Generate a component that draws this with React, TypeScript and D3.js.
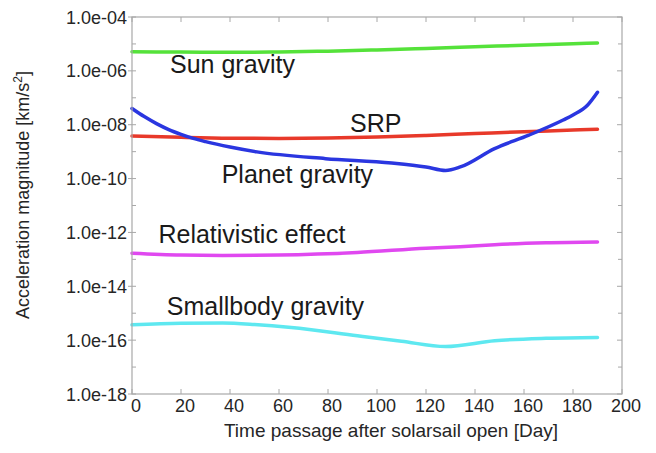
import React from "react";
import * as d3 from "d3";

const W = 656;
const H = 453;

const sunDays = [0, 20, 40, 60, 80, 100, 120, 140, 160, 180, 190];
const sunVals = [5.1e-6, 5.0e-6, 4.9e-6, 5.0e-6, 5.4e-6, 6.0e-6, 6.8e-6, 7.8e-6, 9.0e-6, 1.02e-5, 1.08e-5];

const srpDays = [0, 20, 40, 60, 80, 100, 120, 140, 160, 180, 190];
const srpVals = [3.8e-9, 3.4e-9, 3.15e-9, 3.1e-9, 3.2e-9, 3.5e-9, 4.0e-9, 4.7e-9, 5.5e-9, 6.3e-9, 6.8e-9];

const planetDays = [0, 5, 10, 15, 20, 25, 30, 40, 51, 79, 106, 120, 128, 134, 148, 162, 176, 180, 186, 190];
const planetVals = [4.0e-8, 2.0e-8, 1.1e-8, 6.6e-9, 4.4e-9, 3.1e-9, 2.35e-9, 1.48e-9, 9.8e-10, 5.5e-10, 3.8e-10, 2.7e-10, 2.0e-10, 2.7e-10, 1.3e-9, 4.1e-9, 1.5e-8, 2.3e-8, 5.4e-8, 1.6e-7];

const relDays = [0, 20, 37, 60, 92, 120, 134, 148, 169, 190];
const relVals = [1.7e-13, 1.45e-13, 1.4e-13, 1.45e-13, 1.8e-13, 2.6e-13, 2.95e-13, 3.5e-13, 4.1e-13, 4.4e-13];

const smallDays = [0, 20, 37, 50, 65, 92, 110, 128, 148, 169, 190];
const smallVals = [3.7e-16, 4.2e-16, 4.3e-16, 3.8e-16, 2.95e-16, 1.45e-16, 9.1e-17, 5.8e-17, 9.5e-17, 1.17e-16, 1.26e-16];

const xTicks = [0, 20, 40, 60, 80, 100, 120, 140, 160, 180, 200];
const yTicks = [1e-4, 1e-6, 1e-8, 1e-10, 1e-12, 1e-14, 1e-16, 1e-18];
const yTickLabels = ["1.0e-04", "1.0e-06", "1.0e-08", "1.0e-10", "1.0e-12", "1.0e-14", "1.0e-16", "1.0e-18"];
const yMinorTicks = [1e-5, 1e-7, 1e-9, 1e-11, 1e-13, 1e-15, 1e-17];

const series = [
  { name: "Sun gravity", days: sunDays, vals: sunVals, color: "#55e23a" },
  { name: "SRP", days: srpDays, vals: srpVals, color: "#e8392a" },
  { name: "Planet gravity", days: planetDays, vals: planetVals, color: "#2a36e0" },
  { name: "Relativistic effect", days: relDays, vals: relVals, color: "#e048f0" },
  { name: "Smallbody gravity", days: smallDays, vals: smallVals, color: "#5ee8f0" },
];

const labelTexts = ["Sun gravity", "SRP", "Planet gravity", "Relativistic effect", "Smallbody gravity"];
const labelDays = [15.5, 89, 36.6, 10.8, 14.2];
const labelVals = [8.3e-7, 5.5e-9, 6.9e-11, 4.2e-13, 8.5e-16];

const FONT = "'Liberation Sans', Arial, sans-serif";

export default function App() {
  const left = 132, right = 622, top = 17, bottom = 394;
  const x = d3.scaleLinear().domain([0, 200]).range([left, right]);
  const y = d3.scaleLog().domain([1e-18, 1e-4]).range([bottom, top]);
  const line = d3
    .line<[number, number]>()
    .x((d) => x(d[0]))
    .y((d) => y(d[1]))
    .curve(d3.curveMonotoneX);
  const frame = "#a8a8a8";
  const textColor = "#262626";

  return (
    <svg width={W} height={H} style={{ position: "absolute", left: 0, top: 0, background: "#fff" }}>
      <rect x={0} y={0} width={W} height={H} fill="#fff" />
      {series.map((s) => (
        <path
          key={s.name}
          d={line(s.days.map((d, i) => [d, s.vals[i]] as [number, number])) || ""}
          fill="none"
          stroke={s.color}
          strokeWidth={3.5}
          strokeLinecap="round"
          strokeLinejoin="round"
        />
      ))}
      <rect x={left} y={top} width={right - left} height={bottom - top} fill="none" stroke={frame} strokeWidth={1.2} />
      {xTicks.map((t) => (
        <g key={"xt" + t}>
          <line x1={x(t)} x2={x(t)} y1={bottom} y2={bottom - 5} stroke={frame} />
          <line x1={x(t)} x2={x(t)} y1={top} y2={top + 5} stroke={frame} />
          <text x={x(t) + 4} y={412} textAnchor="middle" fontFamily={FONT} fontSize={18} fill={textColor}>
            {t}
          </text>
        </g>
      ))}
      {yTicks.map((t, i) => (
        <g key={"yt" + i}>
          <line x1={left - 4} x2={left + 4} y1={y(t)} y2={y(t)} stroke={frame} />
          <line x1={right} x2={right - 5} y1={y(t)} y2={y(t)} stroke={frame} />
          <text x={127} y={y(t) + 6.5} textAnchor="end" fontFamily={FONT} fontSize={18} fill={textColor}>
            {yTickLabels[i]}
          </text>
        </g>
      ))}
      {yMinorTicks.map((t, i) => (
        <g key={"ym" + i}>
          <line x1={left} x2={left + 4} y1={y(t)} y2={y(t)} stroke={frame} />
          <line x1={right} x2={right - 4} y1={y(t)} y2={y(t)} stroke={frame} />
        </g>
      ))}
      {labelTexts.map((txt, i) => (
        <text key={txt} x={x(labelDays[i])} y={y(labelVals[i])} fontFamily={FONT} fontSize={25} fill="#1a1a1a">
          {txt}
        </text>
      ))}
      <text x={391} y={437} textAnchor="middle" fontFamily={FONT} fontSize={19} fill={textColor}>
        Time passage after solarsail open [Day]
      </text>
      <text
        transform="translate(29,195) rotate(-90)"
        textAnchor="middle"
        fontFamily={FONT}
        fontSize={18}
        fill={textColor}
      >
        Acceleration magnitude [km/s<tspan dy={-7} fontSize={12}>2</tspan>
        <tspan dy={7}>]</tspan>
      </text>
    </svg>
  );
}
